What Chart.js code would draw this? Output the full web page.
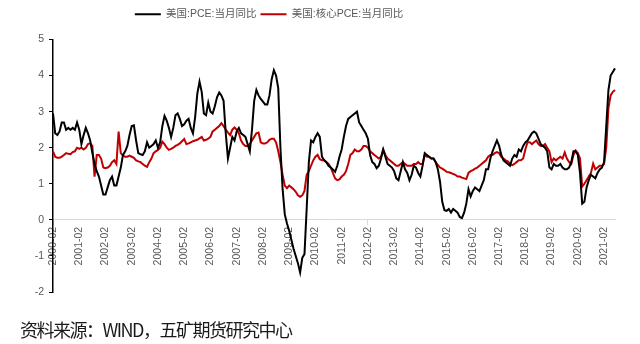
<!DOCTYPE html>
<html>
<head>
<meta charset="utf-8">
<script src="https://cdn.jsdelivr.net/npm/chart.js@4.4.1/dist/chart.umd.min.js"></script>
<style>
  html, body { margin: 0; padding: 0; background: #fff; }
  #wrap { position: relative; width: 640px; height: 344px; }
  #source {
    position: absolute; left: 20px; top: 316px;
    font-family: 'Noto Sans CJK SC', sans-serif; font-size: 18px;
    letter-spacing: -1.5px; color: #1a1a1a; white-space: nowrap;
  }
</style>
</head>
<body>
<div id="wrap">
  <canvas id="pceChart"></canvas>
  <div id="source">资料来源：WIND，五矿期货研究中心</div>
</div>
<script>
// 月度序列：2000-02 起，至 2021-07
const startYear = 2000;
const startMonth = 2;
const seriesNames = ['美国:PCE:当月同比', '美国:核心PCE:当月同比'];

const pce = [
  2.95, 2.4, 2.35, 2.45, 2.7, 2.7, 2.5, 2.55, 2.5, 2.55, 2.5, 2.7,
  2.5, 2.1, 2.35, 2.55, 2.4, 2.2, 1.85, 1.55, 1.35, 1.2, 0.95, 0.7,
  0.7, 0.9, 1.1, 1.2, 0.95, 0.95, 1.2, 1.45, 1.8, 1.9, 2.05, 2.35,
  2.6, 2.62, 2.2, 1.85, 1.82, 1.8, 1.9, 2.15, 2.0, 2.05, 2.1, 2.2,
  2.0, 2.15, 2.6, 2.88, 2.75, 2.55, 2.3, 2.55, 2.9, 2.95, 2.8, 2.6,
  2.65, 2.75, 2.8, 2.55, 2.4, 2.85, 3.5, 3.83, 3.55, 2.95, 2.9, 3.25,
  3.0, 2.95, 3.15, 3.4, 3.53, 3.45, 3.3, 2.4, 1.7, 2.0, 2.3, 2.2,
  2.45, 2.55, 2.4, 2.35, 2.3, 2.1, 1.9, 2.5, 3.3, 3.6, 3.45, 3.35,
  3.28, 3.2, 3.2, 3.45, 3.9, 4.15, 4.0, 3.65, 2.0, 0.85, 0.15, -0.1,
  -0.3, -0.55, -0.8, -1.0, -1.2, -1.46, -1.05, -0.95, 0.3, 1.6, 2.2, 2.15,
  2.3, 2.4, 2.3, 1.75, 1.65, 1.6, 1.5, 1.45, 1.4, 1.33, 1.5, 1.75,
  1.95, 2.3, 2.6, 2.8, 2.85, 2.9, 2.95, 3.0, 2.7, 2.6, 2.5, 2.4,
  2.25, 1.8, 1.6, 1.55, 1.43, 1.5, 1.7, 1.95, 1.75, 1.55, 1.5, 1.45,
  1.35, 1.15, 1.1, 1.35, 1.6, 1.4, 1.3, 1.1, 1.25, 1.5, 1.45, 1.3,
  1.2, 1.5, 1.85, 1.8, 1.75, 1.7, 1.7, 1.6, 1.4, 1.05, 0.5, 0.27,
  0.25, 0.3, 0.2, 0.3, 0.25, 0.2, 0.08, 0.05, 0.2, 0.45, 0.85, 0.65,
  0.8, 0.9, 0.85, 0.8, 0.95, 1.1, 1.4, 1.4, 1.7, 1.9, 2.05, 2.2,
  2.05, 1.8, 1.65, 1.6, 1.55, 1.5, 1.7, 1.8, 1.75, 1.95, 1.9, 2.05,
  2.15, 2.2, 2.3, 2.4, 2.45, 2.4, 2.25, 2.1, 2.05, 2.0, 1.9, 1.45,
  1.4, 1.55, 1.5, 1.5, 1.55, 1.45, 1.4, 1.4, 1.45, 1.6, 1.9, 1.9,
  1.8, 1.3, 0.45, 0.5, 0.9, 1.1, 1.25, 1.2, 1.15, 1.3, 1.4, 1.45,
  1.6, 2.6, 3.6, 4.0, 4.1, 4.2
];

const corePce = [
  1.9, 1.75, 1.72, 1.72, 1.75, 1.8, 1.85, 1.83, 1.82, 1.88, 1.9, 2.0,
  1.97, 2.0, 1.95, 2.0, 2.1, 2.12, 2.05, 1.2, 1.8, 1.8, 1.7, 1.45,
  1.43, 1.45, 1.5, 1.6, 1.65, 1.55, 2.45, 1.85, 1.78, 1.75, 1.75, 1.78,
  1.75, 1.72, 1.65, 1.62, 1.6, 1.55, 1.5, 1.47, 1.6, 1.7, 1.85, 1.9,
  1.94, 2.0, 2.17, 2.1, 2.0, 1.94, 1.97, 2.0, 2.05, 2.08, 2.12, 2.18,
  2.24, 2.1, 2.12, 2.15, 2.18, 2.2, 2.22, 2.26, 2.3, 2.2, 2.22, 2.25,
  2.3, 2.45, 2.5, 2.55, 2.6, 2.68, 2.6, 2.5, 2.42, 2.35, 2.5, 2.56,
  2.5, 2.4, 2.2, 2.1, 2.05, 2.05, 2.1, 2.2, 2.3, 2.4, 2.42, 2.15,
  2.12, 2.12, 2.15, 2.22, 2.25, 2.25, 2.15, 1.9, 1.6, 1.25, 0.95, 0.88,
  0.95, 0.9, 0.85, 0.78, 0.68, 0.64, 0.68, 0.8, 1.25, 1.35, 1.5, 1.65,
  1.75, 1.8, 1.68, 1.65, 1.65, 1.6, 1.55, 1.45, 1.3, 1.15, 1.1, 1.12,
  1.2, 1.25, 1.35, 1.55, 1.8, 1.85, 1.95, 1.9, 1.9, 1.95, 2.05, 2.05,
  2.0, 1.9, 1.85, 1.8, 1.75, 1.7, 1.75, 1.95, 1.8, 1.7, 1.65, 1.6,
  1.55, 1.5, 1.5, 1.55, 1.6, 1.55, 1.5, 1.5, 1.5, 1.55, 1.55, 1.6,
  1.55, 1.55, 1.8, 1.75, 1.75, 1.7, 1.7, 1.6, 1.52, 1.45, 1.42, 1.38,
  1.33, 1.32, 1.3, 1.27, 1.25, 1.2, 1.2, 1.17, 1.15, 1.13, 1.3, 1.35,
  1.38, 1.42, 1.45, 1.5, 1.55, 1.6, 1.65, 1.75, 1.8, 1.8, 1.85, 1.88,
  1.85, 1.75, 1.7, 1.65, 1.62, 1.55, 1.52, 1.55, 1.6, 1.65, 1.65, 1.7,
  1.95, 2.15, 2.15, 2.1, 2.15, 2.2, 2.1, 2.05, 2.05, 2.1, 2.0, 1.9,
  1.6, 1.7, 1.65, 1.7, 1.75, 1.7, 1.87, 1.7, 1.6, 1.55, 1.8, 1.92,
  1.85, 1.7, 0.92, 1.0, 1.1, 1.2, 1.3, 1.56, 1.4, 1.45, 1.5, 1.5,
  1.55, 2.0, 3.1, 3.45, 3.55, 3.6
];

const yTicks = [-2, -1, 0, 1, 2, 3, 4, 5];

const months = [];
for (let i = 0; i < pce.length; i++) {
  const m = startMonth - 1 + i;
  const y = startYear + Math.floor(m / 12);
  months.push(y + '-' + String(m % 12 + 1).padStart(2, '0'));
}

const labelFont = { family: "'Liberation Sans', 'Noto Sans CJK SC', sans-serif", size: 10.5 };

// 图例：下方留出空隙，整体略向左
const legendTweak = {
  id: 'legendTweak',
  beforeInit(chart) {
    const legend = chart.legend;
    const fit = legend.fit;
    legend.fit = function () { fit.call(this); this.height += 6; };
    const draw = legend.draw;
    legend.draw = function () {
      this.ctx.save();
      this.ctx.translate(-45, -4);
      draw.call(this);
      this.ctx.restore();
    };
  }
};

new Chart(document.getElementById('pceChart'), {
  type: 'line',
  data: {
    labels: months,
    datasets: [
      {
        label: seriesNames[0],
        data: pce,
        borderColor: '#000000',
        backgroundColor: '#000000',
        borderWidth: 2,
        pointRadius: 0,
        tension: 0
      },
      {
        label: seriesNames[1],
        data: corePce,
        borderColor: '#c00000',
        backgroundColor: '#c00000',
        borderWidth: 2,
        pointRadius: 0,
        tension: 0
      }
    ]
  },
  plugins: [legendTweak],
  options: {
    responsive: true,
    maintainAspectRatio: false,
    animation: false,
    layout: { padding: { left: 13, right: 25, top: 9, bottom: 52 } },
    plugins: {
      tooltip: { enabled: false },
      legend: {
        position: 'top',
        labels: {
          usePointStyle: true,
          pointStyle: 'line',
          pointStyleWidth: 26,
          padding: 4,
          color: '#595959',
          font: labelFont
        }
      }
    },
    scales: {
      x: {
        type: 'category',
        position: { y: 0 },
        border: { color: '#d9d9d9', width: 1 },
        grid: {
          drawOnChartArea: false,
          tickLength: 5,
          tickColor: ctx => ctx.index % 12 === 0 ? '#d9d9d9' : 'rgba(0,0,0,0)'
        },
        ticks: {
          autoSkip: false,
          minRotation: 90,
          maxRotation: 90,
          padding: 2,
          color: '#595959',
          font: labelFont,
          callback: function (v, i) { return i % 12 === 0 ? this.getLabelForValue(v) : null; }
        }
      },
      y: {
        min: -2,
        max: 5,
        afterFit: scale => { scale.width = 40; },
        afterBuildTicks: scale => { scale.ticks = yTicks.map(v => ({ value: v })); },
        border: { color: '#000000', width: 1.5 },
        grid: { drawOnChartArea: false, tickLength: 4, tickColor: '#000000' },
        ticks: { padding: 5, color: '#595959', font: labelFont }
      }
    }
  }
});
</script>
</body>
</html>
